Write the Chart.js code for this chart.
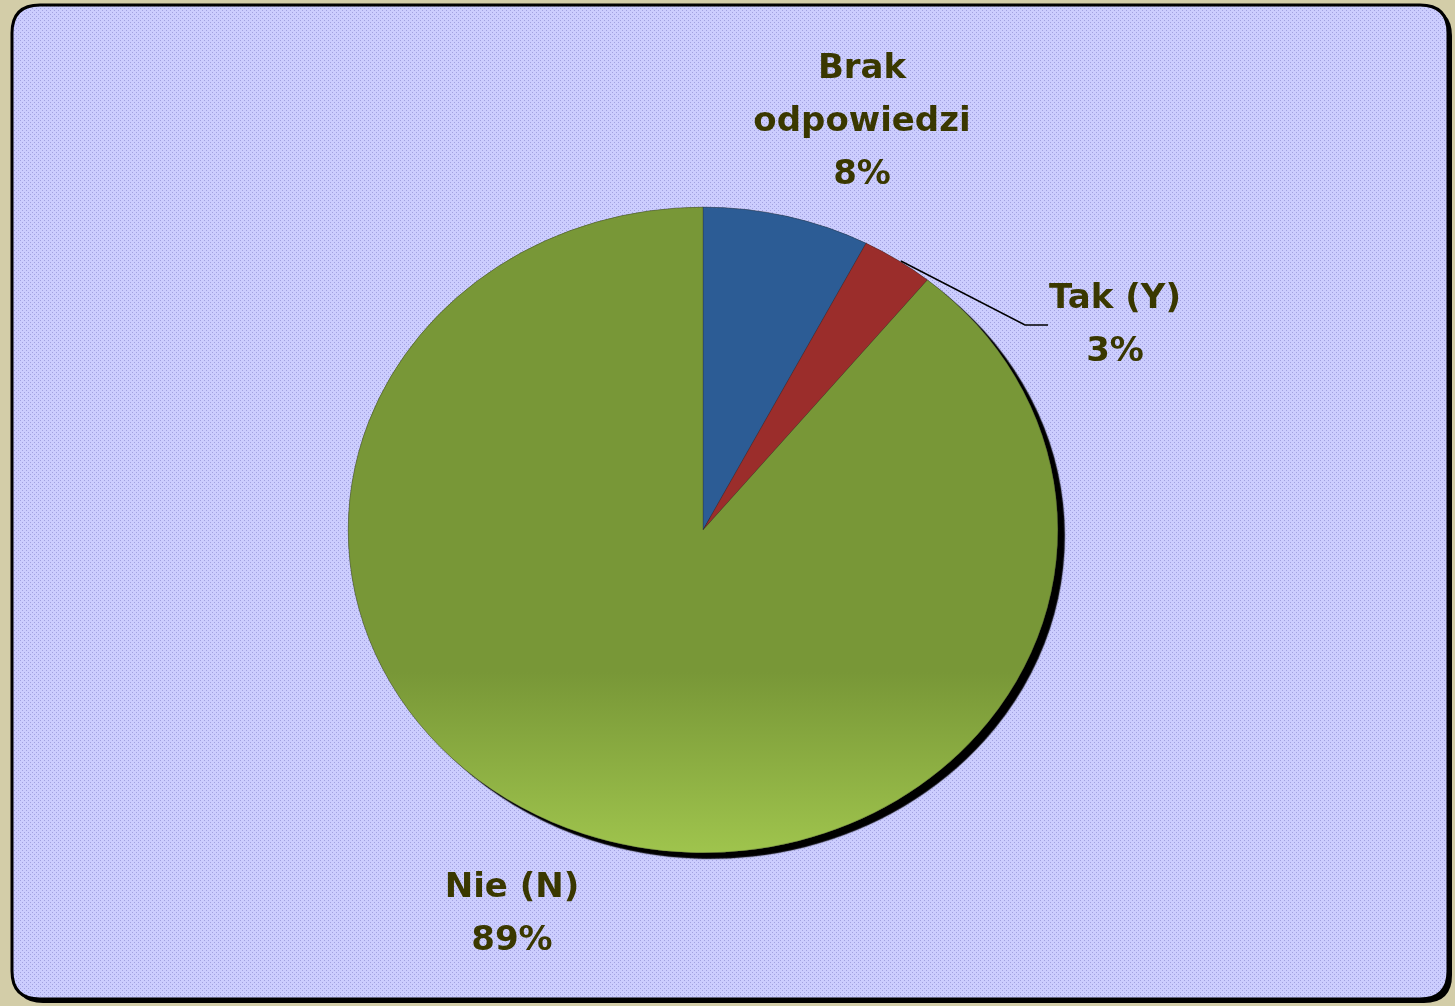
<!DOCTYPE html>
<html>
<head>
<meta charset="utf-8">
<script src="https://cdn.jsdelivr.net/npm/chart.js@4/dist/chart.umd.min.js"></script>
<style>
  html, body { margin: 0; padding: 0; background: #d3cda8; }
  #wrap { width: 1455px; height: 1006px; position: relative; }
</style>
</head>
<body>
<div id="wrap"><canvas id="pie" width="1455" height="1006"></canvas></div>
<script>
// dane
const categories = ['Brak odpowiedzi', 'Tak (Y)', 'Nie (N)'];
const values = [7.6, 3.3, 89.1];
const percentLabels = ['8%', '3%', '89%'];
const labelLines = [['Brak', 'odpowiedzi'], ['Tak (Y)'], ['Nie (N)']];
const colors = ['#2c5c95', '#9b2d2b', '#789737'];

const ySquash = 0.91; // kolo jest lekko splaszczone

// tło z kropkami (jak w Excelu)
function dotPattern(ctx) {
    const c = document.createElement('canvas');
    c.width = 4; c.height = 4;
    const p = c.getContext('2d');
    p.fillStyle = '#cccdfe';
    p.fillRect(0, 0, 4, 4);
    p.fillStyle = '#a2a2e0';
    p.fillRect(0, 0, 1, 1);
    p.fillRect(2, 2, 1, 1);
    return ctx.createPattern(c, 'repeat');
}

function roundRect(ctx, x, y, w, h, r) {
    ctx.beginPath();
    ctx.moveTo(x + r, y);
    ctx.lineTo(x + w - r, y);
    ctx.quadraticCurveTo(x + w, y, x + w, y + r);
    ctx.lineTo(x + w, y + h - r);
    ctx.quadraticCurveTo(x + w, y + h, x + w - r, y + h);
    ctx.lineTo(x + r, y + h);
    ctx.quadraticCurveTo(x, y + h, x, y + h - r);
    ctx.lineTo(x, y + r);
    ctx.quadraticCurveTo(x, y, x + r, y);
    ctx.closePath();
}

const backgroundPlugin = {
    id: 'bg',
    beforeDraw(chart) {
        const ctx = chart.ctx;
        ctx.save();
        // cień ramki
        roundRect(ctx, 15, 8, 1437, 995, 28);
        ctx.fillStyle = '#000';
        ctx.fill();
        roundRect(ctx, 12, 5, 1436, 994, 28);
        ctx.fillStyle = dotPattern(ctx);
        ctx.fill();
        ctx.lineWidth = 3;
        ctx.strokeStyle = '#000';
        ctx.stroke();
        ctx.restore();
    }
};

function squash(chart) {
    const ctx = chart.ctx;
    const a = chart.chartArea;
    const cx = (a.left + a.right) / 2, cy = (a.top + a.bottom) / 2;
    ctx.translate(cx, cy);
    ctx.scale(1, ySquash);
    ctx.translate(-cx, -cy);
}

const squashPlugin = {
    id: 'squash',
    beforeDatasetsDraw(chart) {
        const ctx = chart.ctx;
        // najpierw cień pod całym kołem
        ctx.save();
        squash(chart);
        ctx.shadowColor = '#000';
        ctx.shadowOffsetX = 7;
        ctx.shadowOffsetY = 6;
        ctx.shadowBlur = 1;
        chart.getDatasetMeta(0).data.forEach(el => el.draw(ctx));
        ctx.restore();
        ctx.save();
        squash(chart);
    },
    afterDatasetsDraw(chart) {
        chart.ctx.restore();
    }
};

// etykiety danych
const labelPlugin = {
    id: 'pieLabels',
    afterDraw(chart) {
        const ctx = chart.ctx;
        const a = chart.chartArea;
        const cx = (a.left + a.right) / 2, cy = (a.top + a.bottom) / 2;
        const r = (a.right - a.left) / 2;
        const meta = chart.getDatasetMeta(0);
        // miejsca etykiet wzgledem srodka kola
        const offs = [[159, -408], [412, -204], [-191, 385]];
        ctx.save();
        ctx.fillStyle = '#3a3800';
        ctx.font = 'bold 34px "DejaVu Sans"';
        ctx.textAlign = 'center';
        ctx.textBaseline = 'middle';
        const lh = 53;
        labelLines.forEach((lines, i) => {
            const all = lines.concat([percentLabels[i]]);
            const x = cx + offs[i][0];
            const y0 = cy + offs[i][1] - (all.length - 1) * lh / 2;
            all.forEach((t, k) => ctx.fillText(t, x, y0 + k * lh));
        });
        // linia odniesienia dla "Tak (Y)"
        const el = meta.data[1];
        const mid = (el.startAngle + el.endAngle) / 2;
        const px = cx + Math.cos(mid) * r;
        const py = cy + Math.sin(mid) * r * ySquash;
        ctx.strokeStyle = '#000';
        ctx.lineWidth = 1.5;
        ctx.beginPath();
        ctx.moveTo(px + 3, py + 1);
        ctx.lineTo(cx + 322, cy - 205);
        ctx.lineTo(cx + 345, cy - 205);
        ctx.stroke();
        ctx.restore();
    }
};

new Chart(document.getElementById('pie'), {
    type: 'pie',
    data: {
        labels: categories,
        datasets: [{
            data: values,
            backgroundColor: (c) => {
                if (c.dataIndex !== 2) return colors[c.dataIndex];
                const a = c.chart.chartArea;
                if (!a) return colors[2];
                const g = c.chart.ctx.createLinearGradient(0, a.top, 0, a.bottom);
                g.addColorStop(0, '#789737');
                g.addColorStop(0.72, '#789737');
                g.addColorStop(1, '#9fc44d');
                return g;
            },
            borderWidth: 0.5,
            borderColor: 'rgba(40,40,40,0.6)'
        }]
    },
    options: {
        responsive: false,
        animation: false,
        layout: { padding: { left: 348, right: 397, top: 175, bottom: 121 } },
        plugins: {
            legend: { display: false },
            tooltip: { enabled: false }
        }
    },
    plugins: [backgroundPlugin, squashPlugin, labelPlugin]
});
</script>
</body>
</html>
